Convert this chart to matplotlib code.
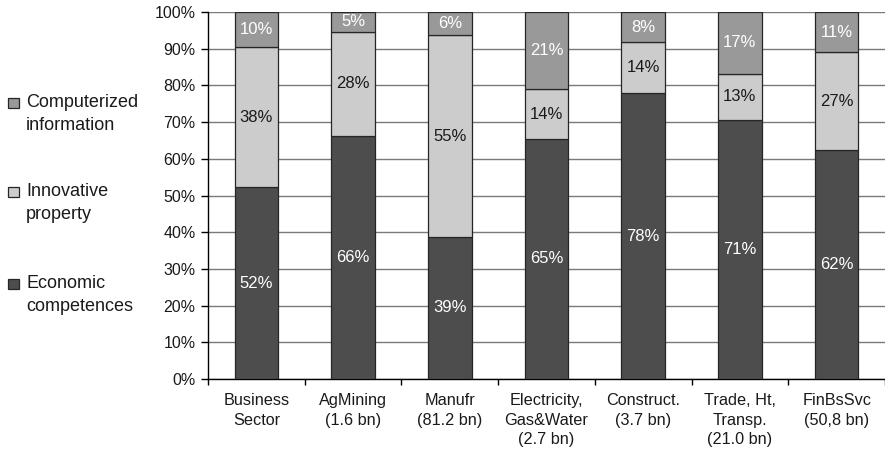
import matplotlib
matplotlib.use("Agg")
import matplotlib.pyplot as plt
from matplotlib.patches import Rectangle
from matplotlib.ticker import MultipleLocator, FuncFormatter

plt.rcParams['font.family'] = ['Liberation Sans', 'DejaVu Sans']

sectors = ["Business\nSector", "AgMining\n(1.6 bn)", "Manufr\n(81.2 bn)",
           "Electricity,\nGas&Water\n(2.7 bn)", "Construct.\n(3.7 bn)",
           "Trade, Ht,\nTransp.\n(21.0 bn)", "FinBsSvc\n(50,8 bn)"]
economic = [52.2, 66.2, 38.8, 65.4, 77.9, 70.6, 62.4]
innovative = [38.2, 28.4, 54.8, 13.6, 13.9, 12.6, 26.6]
computerized = [9.6, 5.4, 6.4, 21.0, 8.2, 16.8, 11.0]

series = [
    ("Economic\ncompetences", economic, "#4d4d4d", "white"),
    ("Innovative\nproperty", innovative, "#cccccc", "#1a1a1a"),
    ("Computerized\ninformation", computerized, "#999999", "white"),
]

W, H = 885, 459
fig = plt.figure(figsize=(W / 100, H / 100), dpi=100)
ax = fig.add_axes([208 / W, 80 / H, (W - 208) / W, 367 / H])

x = list(range(len(sectors)))
bottom = [0.0] * len(sectors)
for name, vals, col, tcol in series:
    ax.bar(x, vals, width=0.45, bottom=bottom, color=col,
           edgecolor="#262626", linewidth=0.9, zorder=3)
    for xi, b, v in zip(x, bottom, vals):
        ax.text(xi, b + v / 2, f"{v:.0f}%", ha="center", va="center",
                color=tcol, fontsize=12, zorder=4)
    bottom = [b + v for b, v in zip(bottom, vals)]

ax.set_xlim(-0.5, 6.45)
ax.set_ylim(0, 100)
ax.yaxis.set_major_locator(MultipleLocator(10))
ax.yaxis.set_major_formatter(FuncFormatter(lambda v, p: f"{v:.0f}%"))
ax.grid(axis="y", color="#7a7a7a", linewidth=1, zorder=0)
ax.set_axisbelow(True)

ax.set_xticks(x)
ax.set_xticklabels(sectors, fontsize=11.7, linespacing=1.4, color="#1a1a1a")
ax.set_xticks([i - 0.5 for i in range(len(sectors) + 1)], minor=True)
ax.tick_params(axis="x", which="major", length=0, pad=10)
ax.tick_params(axis="x", which="minor", length=4, width=1, direction="out")
ax.tick_params(axis="y", length=5, width=1, direction="out", labelsize=11.5,
               pad=4, labelcolor="#1a1a1a")

for s in ["top", "right"]:
    ax.spines[s].set_visible(False)
ax.spines["left"].set_linewidth(1)
ax.spines["bottom"].set_linewidth(1)

# legend drawn by hand, top entry first
tops = [275, 183, 94]
for (name, vals, col, tcol), t in zip(series, tops):
    fig.add_artist(Rectangle((8 / W, 1 - (t + 14) / H), 11 / W, 10 / H,
                             transform=fig.transFigure, facecolor=col,
                             edgecolor="#262626", linewidth=0.9))
    fig.text(26 / W, 1 - t / H, name, ha="left", va="top", color="#1a1a1a",
             fontsize=13, linespacing=1.45)

fig.savefig("out.png", dpi=100)
